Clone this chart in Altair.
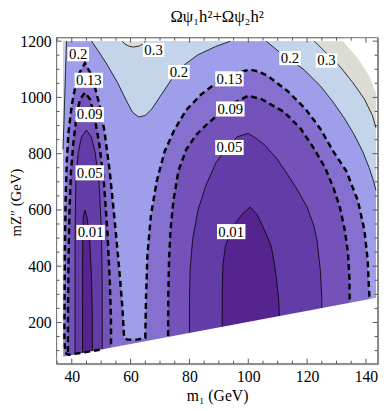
import altair as alt
import pandas as pd

# ---------------- data (m1 in GeV, mZ'' in GeV) ----------------
# edges of the allowed region
bottom_edge = [(34.67, 73.3), (144.13, 288.6)]
corner_edge = [(132.23, 1200), (134.5, 1172), (137.23, 1139), (141.13, 1076), (143.4, 1017), (144.13, 1000)]
region_top = [(37.0, 1200), (143.4, 1200)]

# contour 0.3
c03_blob = [(57.2, 1200), (58, 1190), (59.5, 1182), (61, 1179), (63, 1183), (64.5, 1192), (65, 1200)]
c03_right = [(122.5, 1200), (126.6, 1157), (131.1, 1111), (135.6, 1052), (139.5, 994), (142.2, 936), (143.4, 892)]
# contour 0.2
c02_left = [(38.2, 1200), (37.9, 1100), (37.6, 1000), (37.3, 900), (37.0, 815)]
c02_mid = [(46.7, 1200), (48.9, 1167), (51.7, 1122), (55.6, 1052), (58.3, 994), (60.6, 948), (62.8, 930),
           (65, 936), (67.2, 959), (70.6, 1012), (73.9, 1064), (78.3, 1116), (82.8, 1151), (88.9, 1181), (93.9, 1200)]
c02_right = [(106.1, 1200), (111.1, 1157), (118.9, 1099), (124.5, 1041), (128.9, 983), (132.8, 924), (136.1, 866),
             (138.9, 808), (141.1, 750), (142.6, 703), (143.4, 669)]
# contour 0.13
c013_hook = [(49.5, 103), (43.9, 93), (38.9, 85), (37.8, 92)]
c013 = [(37.5, 145), (37.57, 285), (37.67, 459), (37.9, 634), (38.3, 773), (38.9, 878), (40, 972), (41.13, 1035),
        (42.23, 1080), (44.47, 1122), (46.67, 1080), (47.9, 1035), (49.47, 972), (51.13, 878), (52.9, 738),
        (54.57, 564), (56.13, 389), (57.23, 250), (57.8, 145), (58.9, 139), (62.23, 139), (65, 145), (65.23, 285),
        (65.73, 442), (66.9, 581), (68.9, 703), (71.57, 808), (74.9, 885), (78.9, 955), (83.9, 1010), (90.57, 1063),
        (95.57, 1087), (100.57, 1099), (103.5, 1092), (106.67, 1076), (113.33, 1023), (119.47, 959), (124.47, 889),
        (128.9, 808), (133.33, 738), (137.23, 634), (139.47, 529), (140.57, 424), (141.13, 302), (141.2, 285)]
# contour 0.09
c009_left = [(38.7, 95), (38.73, 250), (38.9, 424), (39.23, 599), (39.73, 738), (40.57, 843), (41.67, 937),
             (42.8, 993), (44.47, 1017), (46.23, 993), (47.57, 937), (49.23, 843), (50.9, 703), (52.07, 529),
             (52.9, 354), (53.33, 215), (53.35, 112)]
c009_right = [(72.75, 152), (72.8, 292), (73.07, 424), (73.57, 529), (74.57, 634), (76.23, 738), (78.9, 815),
              (82.23, 866), (85.57, 901), (93.33, 971), (100, 1006), (104.47, 994), (112.23, 948), (117.8, 889),
              (122.23, 820), (126.13, 750), (128.9, 680), (131.13, 610), (132.8, 529), (133.9, 448), (134.4, 354),
              (134.47, 272)]
# contour 0.05
c005_left = [(41.1, 87), (41.12, 285), (41.13, 529), (41.4, 703), (42.23, 808), (43.33, 860), (45, 884),
             (46.57, 860), (47.9, 808), (49.23, 703), (50.07, 529), (50.33, 354), (50.35, 105)]
c005_right = [(80, 163), (80.02, 285), (80.23, 389), (81.07, 494), (82.9, 599), (85.57, 686), (88.9, 766),
              (92.23, 815), (96.23, 860), (100, 872), (102.9, 853), (105.57, 831), (109.57, 784), (113.33, 727),
              (116.9, 668), (120, 610), (122.23, 546), (123.33, 494), (124.47, 389), (125, 285), (125.02, 252)]
# contour 0.01
c001_left = [(43.67, 92), (43.68, 285), (43.7, 494), (43.9, 574), (44.47, 599), (45.23, 571), (46.07, 494),
             (46.73, 354), (47, 215), (47.02, 99)]
c001_right = [(91.13, 185), (91.14, 320), (91.4, 407), (92.23, 471), (93.57, 511), (95.57, 552), (97.9, 585),
              (100.57, 610), (102.9, 585), (104.47, 552), (106.23, 511), (107.8, 471), (108.9, 407), (109.57, 354),
              (110.33, 285), (110.57, 223)]

# contour labels
label_text = ["0.2", "0.13", "0.09", "0.05", "0.01", "0.3", "0.2", "0.13", "0.09", "0.05", "0.01", "0.2", "0.3"]
label_m1 = [42.2, 45.8, 46.1, 46.1, 46.4, 67.8, 76.4, 93.6, 93.9, 93.6, 94.2, 114.2, 126.6]
label_mz = [1154, 1061, 939, 732, 520, 1169, 1090, 1066, 959, 822, 523, 1140, 1131]

x_major = [40, 60, 80, 100, 120, 140]
y_major = [200, 400, 600, 800, 1000, 1200]
x_minor = [v for v in range(35, 145, 5) if v not in x_major]
y_minor = [v for v in range(100, 1201, 50) if v not in y_major]

# ---------------- styling ----------------
W, H = 328, 333
XDOM = [34.67, 144.13]
YDOM = [52, 1214]
FONT = "Liberation Serif, Times New Roman, DejaVu Serif, serif"
fills = {
    "base": "#dcdcd5",
    "lt03": "#c4d4ea",
    "lt02": "#9e9eea",
    "lt013": "#8670cf",
    "lt009": "#7452ba",
    "lt005": "#643ca8",
    "lt001": "#55248f",
}

xs = alt.Scale(domain=XDOM, nice=False, zero=False)
ys = alt.Scale(domain=YDOM, nice=False, zero=False)
XA = alt.Axis(values=x_major, format="d", ticks=False, domain=False, grid=False,
              labelFont=FONT, labelFontSize=16, labelColor="black", labelPadding=5,
              title="m₁ (GeV)", titleFont=FONT, titleFontSize=16, titleFontWeight="normal",
              titleColor="black", titlePadding=3)
YA = alt.Axis(values=y_major, format="d", ticks=False, domain=False, grid=False,
              labelFont=FONT, labelFontSize=16, labelColor="black", labelPadding=5,
              title="mZ″ (GeV)", titleFont=FONT, titleFontSize=15, titleFontWeight="normal",
              titleColor="black", titleX=-33.5, titleY=168)
X = alt.X("m1:Q", scale=xs, axis=XA)
Y = alt.Y("mz:Q", scale=ys, axis=YA, stack=None)


def table(pieces):
    rows = []
    for name, pts in pieces:
        for i, (a, b) in enumerate(pts):
            rows.append({"piece": name, "idx": i, "m1": a, "mz": b})
    return pd.DataFrame(rows)


def area(pts, color, top=False):
    enc = dict(x=X, y=Y)
    if top:
        enc["y2"] = alt.value(0)
    return alt.Chart(table([("a", pts)])).mark_area(color=color, opacity=1, clip=True).encode(**enc)


def line(pieces, dashed=False, color="black", width=0.8):
    if dashed:
        mk = alt.Chart(table(pieces)).mark_line(color=color, strokeWidth=2.5, strokeDash=[6, 4], clip=True)
    else:
        mk = alt.Chart(table(pieces)).mark_line(color=color, strokeWidth=width, clip=False)
    return mk.encode(x=X, y=Y, detail="piece:N", order="idx:Q")


lt03 = [(37.0, 1200)] + c03_blob + c03_right
lt02 = list(reversed(c02_left)) + c02_mid + c02_right

# frame and inner ticks as rule segments, in data units of the scales
kx = W / (XDOM[1] - XDOM[0])   # px per GeV on x
ky = H / (YDOM[1] - YDOM[0])   # px per GeV on y
hx, hy = 0.5 / kx, 0.5 / ky    # half a pixel, so the frame stays inside
x0, x1 = XDOM[0] + hx, XDOM[1] - hx
y0, y1 = YDOM[0] + hy, YDOM[1] - hy
seg = []  # (m1, m1b, mz, mzb, kind)
seg += [(x0, x1, y0, y0, "frame"), (x0, x1, y1, y1, "frame"), (x0, x0, y0, y1, "frame"), (x1, x1, y0, y1, "frame")]
for vals, L in ((x_major, 5.0), (x_minor, 3.0)):
    for v in vals:
        seg.append((v, v, y0, y0 + L / ky, "tick"))
        seg.append((v, v, y1, y1 - L / ky, "tick"))
for vals, L in ((y_major, 5.0), (y_minor, 3.0)):
    for v in vals:
        seg.append((x0, x0 + L / kx, v, v, "tick"))
        seg.append((x1, x1 - L / kx, v, v, "tick"))
segs = pd.DataFrame(seg, columns=["m1", "m1b", "mz", "mzb", "kind"])
frame_layer = alt.Chart(segs).mark_rule(strokeWidth=1).encode(
    x=X, x2="m1b:Q", y=Y, y2="mzb:Q",
    color=alt.Color("kind:N", scale=alt.Scale(domain=["frame", "tick"], range=["#7a7a7a", "#555555"]),
                    legend=None),
)

layers = [
    area(region_top, fills["base"]),
    area(lt03, fills["lt03"]),
    area(lt02, fills["lt02"]),
    area(c013, fills["lt013"]),
    area(c009_left, fills["lt009"]),
    area(c009_right, fills["lt009"]),
    area(c005_left, fills["lt005"]),
    area(c005_right, fills["lt005"]),
    area(c001_left, fills["lt001"]),
    area(c001_right, fills["lt001"]),
    # masks outside the allowed region
    area(bottom_edge, "white"),
    area(corner_edge, "white", top=True),
    # frame and ticks
    frame_layer,
    # contour lines
    line([("a", c03_blob), ("b", c03_right), ("c", c02_left), ("d", c02_mid), ("e", c02_right),
          ("f", c005_left), ("g", c005_right), ("h", c001_left), ("i", c001_right)]),
    line([("a", c013_hook + c013), ("b", c009_left), ("c", c009_right)], dashed=True),
]

labels = pd.DataFrame({"t": label_text, "m1": label_m1, "mz": label_mz})
labels["n"] = labels["t"].str.len()
box_shapes = {3: ("M-1,-0.66L1,-0.66L1,0.66L-1,0.66Z", 22 ** 2),
              4: ("M-1,-0.53L1,-0.53L1,0.53L-1,0.53Z", 29 ** 2)}
for n, (path, sz) in box_shapes.items():
    layers.append(
        alt.Chart(labels).transform_filter(alt.datum.n == n).mark_point(
            shape=path, filled=True, color="white", opacity=1, size=sz, strokeWidth=0
        ).encode(x=X, y=Y)
    )
layers.append(
    alt.Chart(labels).mark_text(font=FONT, fontSize=15, color="black", baseline="middle", align="center").encode(
        x=X, y=Y, text="t:N")
)

chart = alt.layer(*layers).properties(
    width=W, height=H,
    background="white",
    title=alt.TitleParams("Ωψ₁h²+Ωψ₂h²", font=FONT, fontSize=17, fontWeight="normal", color="black", offset=8),
    autosize=alt.AutoSizeParams(type="none"),
    padding={"left": 49, "top": 26, "right": 4, "bottom": 44},
).configure_view(stroke="#888888", strokeWidth=1)

chart.save("out.html", embed_options={"renderer": "svg", "actions": False})
